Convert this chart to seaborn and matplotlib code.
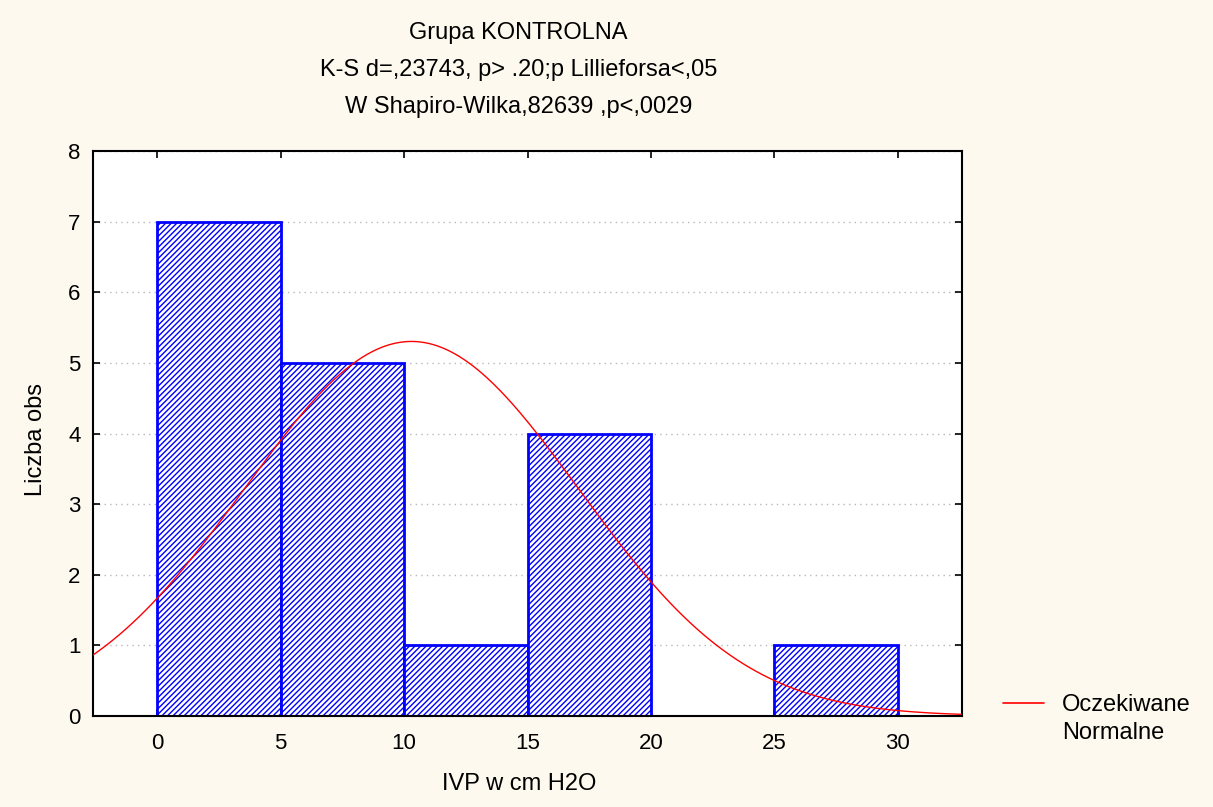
import numpy as np
import matplotlib
matplotlib.use("Agg")
import matplotlib.pyplot as plt
import seaborn as sns

# Histogram data: IVP classes (cm H2O) and counts per class
bin_edges = [0, 5, 10, 15, 20, 25, 30]
counts = [7, 5, 1, 4, 0, 1]
# Expected normal distribution parameters
norm_mean = 10.3
norm_sd = 6.77

title_lines = [
    "Grupa KONTROLNA",
    "K-S d=,23743, p> .20;p Lillieforsa<,05",
    "W Shapiro-Wilka,82639 ,p<,0029",
]
x_ticks = [0, 5, 10, 15, 20, 25, 30]
y_ticks = [0, 1, 2, 3, 4, 5, 6, 7, 8]

sns.set_theme(style="white")
plt.rcParams["font.family"] = ["Liberation Sans", "DejaVu Sans"]
plt.rcParams["text.color"] = "black"
plt.rcParams["axes.labelcolor"] = "black"
plt.rcParams["xtick.color"] = "black"
plt.rcParams["ytick.color"] = "black"
plt.rcParams["hatch.color"] = "#1a1aff"
plt.rcParams["hatch.linewidth"] = 1.0

bg = "#fdf9ee"
W, H = 1213, 807
fig = plt.figure(figsize=(W / 100, H / 100), dpi=100, facecolor=bg)
ax = fig.add_axes([93 / W, 1 - 716 / H, 869 / W, 565 / H])
ax.set_facecolor("white")

centers = [(a + b) / 2 for a, b in zip(bin_edges[:-1], bin_edges[1:])]
sns.histplot(x=centers, weights=counts, bins=bin_edges, ax=ax,
             color="white", edgecolor="#0000ff", linewidth=2.0,
             alpha=1.0, hatch="//////", zorder=2)

# Expected normal curve scaled to counts
n = sum(counts)
width = bin_edges[1] - bin_edges[0]
xs = np.linspace(-2.6, 32.6, 400)
ys = n * width * np.exp(-0.5 * ((xs - norm_mean) / norm_sd) ** 2) / (norm_sd * np.sqrt(2 * np.pi))
sns.lineplot(x=xs, y=ys, ax=ax, color="#ff0000", linewidth=1.0,
             label="Oczekiwane", zorder=3)

ax.set_xlim(-2.6, 32.6)
ax.set_ylim(0, 8)
ax.set_xticks(x_ticks)
ax.set_yticks(y_ticks)
ax.yaxis.grid(True, linestyle=(0, (1, 3)), color="#b8b8b8", linewidth=1.0)
ax.xaxis.grid(False)
ax.set_axisbelow(True)
ax.tick_params(axis="both", which="both", direction="in", length=5,
               width=1.2, color="black", labelsize=16, top=True, right=True,
               bottom=True, left=True)
ax.tick_params(axis="x", pad=12)
ax.tick_params(axis="y", pad=9)
for s in ax.spines.values():
    s.set_color("black")
    s.set_linewidth(1.5)

ax.set_xlabel("IVP w cm H2O", fontsize=17)
ax.xaxis.set_label_coords((519 - 93) / 869, (716 - 773) / 565)
ax.set_ylabel("Liczba obs", fontsize=17)
ax.yaxis.set_label_coords((47 - 93) / 869, 0.49)

for i, t in enumerate(title_lines):
    fig.text(518.5 / W, 1 - (33 + 37 * i) / H, t, ha="center", va="center", fontsize=17)

leg = ax.legend(loc="center left", bbox_to_anchor=(1003 / W, 1 - 705 / H),
                bbox_transform=fig.transFigure, frameon=False,
                fontsize=17, handlelength=1.74, handletextpad=0.76,
                borderpad=0, borderaxespad=0)
leg.get_lines()[0].set_linewidth(1.2)
fig.text(1062 / W, 1 - 733 / H, "Normalne", ha="left", va="center", fontsize=17)

fig.savefig("out.png", dpi=100, facecolor=bg)
